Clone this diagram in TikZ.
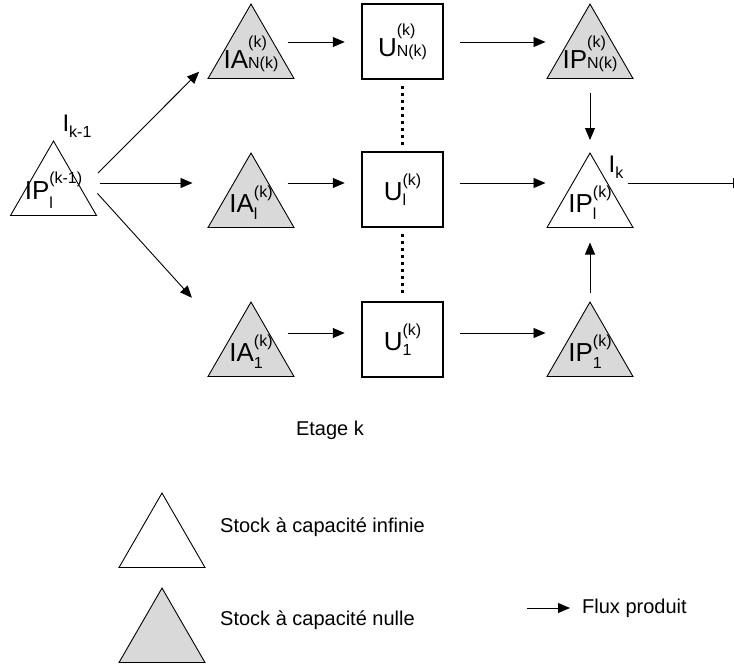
\documentclass[tikz,border=0pt]{standalone}
\usepackage{fontspec}
\setmainfont{Liberation Sans}
\usetikzlibrary{arrows.meta,shapes.geometric}
\definecolor{stockgrey}{RGB}{217,217,217}
\newcommand\bigtxt{\fontsize{26}{26}\selectfont}
\newcommand\smalltxt{\fontsize{16}{16}\selectfont}
\newcommand\stock[5]{%
  \setbox0=\hbox{\bigtxt #1\smalltxt
    \setbox2=\hbox{#2}\setbox4=\hbox{#3}%
    \ifdim\wd2>\wd4 \wd4=\wd2 \fi
    \rlap{\raisebox{#4}{\box2}}\raisebox{#5}{\box4}}%
  \dimen0=\ht0 \advance\dimen0 by -\dp0
  \makebox[0pt]{\raisebox{-0.5\dimen0}[0pt][0pt]{\box0}}}
\newcommand\ilbl[1]{\fontsize{24}{24}\selectfont I\raisebox{-6pt}{\smalltxt #1}}
\tikzset{
  stockinf/.style={regular polygon, regular polygon sides=3, minimum size=99.3pt,
    inner sep=0pt, outer sep=0pt, draw, line width=0.9pt, fill=white},
  stocknul/.style={stockinf, fill=stockgrey},
  unit/.style={draw, line width=2.5pt, minimum width=81pt, minimum height=75pt, inner sep=0pt},
  flow/.style={-{Triangle[length=12pt,width=10pt]}, line width=0.9pt},
  dots/.style={line width=2.6pt, dash pattern=on 2.5pt off 4.5pt},
  legtxt/.style={inner sep=0pt, font=\fontsize{20}{24}\selectfont}
}
\begin{document}
\begin{tikzpicture}[x=1pt,y=-1pt]
  \useasboundingbox (0,0) rectangle (734,666);

  \node[stockinf] (ip-prev) at (53.5,190.7) {\stock{IP}{(k-1)}{l}{16pt}{-9pt}};
  \node (lbl-prev) at (77,126) {\ilbl{k-1}};

  \node[stocknul] (ia-t) at (251,53.7) {\stock{IA}{(k)}{N(k)}{21pt}{0pt}};
  \node[stocknul] (ia-m) at (251,202.7) {\stock{IA}{(k)}{l}{15pt}{-7pt}};
  \node[stocknul] (ia-b) at (251,351.7) {\stock{IA}{(k)}{1}{15pt}{-7pt}};

  \node[unit] (u-t) at (402.5,41.5) {\stock{U}{(k)}{N(k)}{21pt}{0pt}};
  \node[unit] (u-m) at (402.5,189.5) {\stock{U}{(k)}{l}{15pt}{-5pt}};
  \node[unit] (u-b) at (402.5,339.5) {\stock{U}{(k)}{1}{15pt}{-5pt}};

  \node[stocknul] (ip-t) at (590,53.7) {\stock{IP}{(k)}{N(k)}{21pt}{0pt}};
  \node[stockinf] (ip-m) at (590,202.7) {\stock{IP}{(k)}{l}{15pt}{-7pt}};
  \node[stocknul] (ip-b) at (590,351.7) {\stock{IP}{(k)}{1}{15pt}{-7pt}};
  \node (lbl-cur) at (616,167) {\ilbl{k}};

  \coordinate (fan) at (88,183);
  \draw[flow, shorten <=14pt, shorten >=43pt] (fan) -- (ia-t.side 1);
  \draw[flow, shorten <=12pt, shorten >=37pt] (fan) -- (fan -| ia-m.side 1);
  \draw[flow, shorten <=14pt, shorten >=56pt] (fan) -- (ia-b.side 1);

  \foreach \r/\y in {t/42,m/183,b/333}{
    \coordinate (row-\r) at (0,\y);
    \draw[flow, shorten <=15pt, shorten >=16pt] (ia-\r.side 3 |- row-\r) -- (u-\r.west |- row-\r);
    \draw[flow, shorten <=16pt, shorten >=23pt] (u-\r.east |- row-\r) -- (ip-\r.side 1 |- row-\r);
  }

  \draw[dots, shorten <=6pt, shorten >=6pt] (u-t.south) -- (u-m.north);
  \draw[dots, shorten <=6pt, shorten >=6pt] (u-m.south) -- (u-b.north);

  \draw[flow, shorten <=14pt, shorten >=13pt] (ip-t.side 2) -- (ip-m.corner 1);
  \draw[flow, shorten <=9pt, shorten >=15pt] (ip-b.corner 1) -- (ip-m.side 2);
  \coordinate (out) at (745,183);
  \draw[flow, shorten <=16pt] (ip-m.side 3 |- row-m) -- (out);

  \node[legtxt] (etage) at (330,430) {Etage k};
  \node[stockinf] (leg-inf) at (162,542.7) {};
  \node[legtxt, anchor=west] (leg-inf-txt) at (220,527) {Stock à capacité infinie};
  \node[stocknul] (leg-nul) at (162,637.7) {};
  \node[legtxt, anchor=west] (leg-nul-txt) at (220,620) {Stock à capacité nulle};
  \coordinate (flux-start) at (527,608);
  \node[legtxt, anchor=west] (flux-txt) at (582,608) {Flux produit};
  \draw[flow, shorten >=12pt] (flux-start) -- (flux-txt.west);
\end{tikzpicture}
\end{document}
